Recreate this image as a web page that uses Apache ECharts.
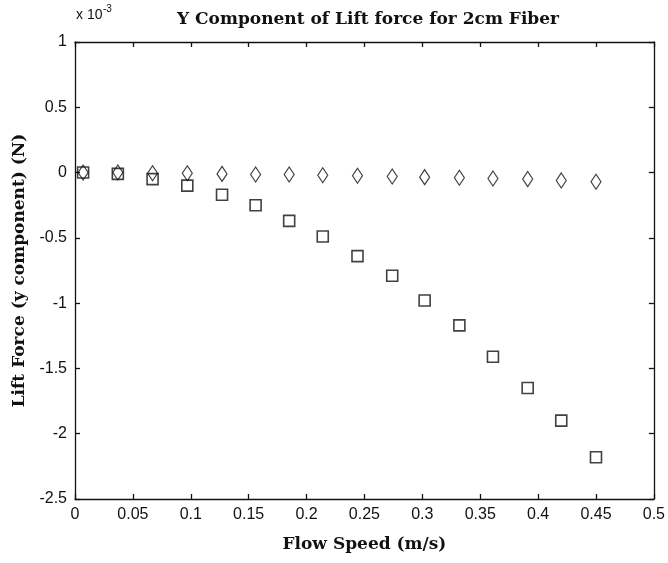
<!DOCTYPE html>
<html>
<head>
<meta charset="utf-8">
<script src="https://cdn.jsdelivr.net/npm/echarts@6/dist/echarts.min.js"></script>
<style>
html,body{margin:0;padding:0;background:#fff;}
#chart{width:668px;height:563px;}
</style>
</head>
<body>
<div id="chart"></div>
<script>
// Flow speed (m/s)
var flowSpeed = [0.007, 0.037, 0.067, 0.097, 0.127, 0.156, 0.185, 0.214, 0.244, 0.274, 0.302, 0.332, 0.361, 0.391, 0.420, 0.450];
// Lift force y component, in units of 1e-3 N
var squareSeries = [0, -0.01, -0.05, -0.10, -0.17, -0.25, -0.37, -0.49, -0.64, -0.79, -0.98, -1.17, -1.41, -1.65, -1.90, -2.18];
var diamondSeries = [0, 0, -0.005, -0.005, -0.01, -0.015, -0.015, -0.02, -0.025, -0.03, -0.035, -0.04, -0.045, -0.05, -0.06, -0.07];
var xTicks = [0, 0.05, 0.1, 0.15, 0.2, 0.25, 0.3, 0.35, 0.4, 0.45, 0.5];
var yTicks = [-2.5, -2, -1.5, -1, -0.5, 0, 0.5, 1];

var tickFont = '"Liberation Sans Narrow", "Liberation Sans", Arial, sans-serif';
var serifFont = '"DejaVu Serif", "Liberation Serif", serif';
var ink = '#111';

function pairs(xs, ys) { return xs.map(function (x, i) { return [x, ys[i]]; }); }

var chart = echarts.init(document.getElementById('chart'));
var lineStyle = { color: ink, width: 1.3 };
chart.setOption({
  backgroundColor: '#fff',
  animation: false,
  title: {
    text: 'Y Component of Lift force for 2cm Fiber',
    left: 363, top: 6, textAlign: 'center',
    textStyle: { fontFamily: serifFont, fontWeight: 'bold', fontSize: 17, color: ink }
  },
  graphic: [{
    type: 'text', left: 76, top: 8,
    style: { text: 'x 10', font: '14px ' + tickFont, fill: ink }
  }, {
    type: 'text', left: 103, top: 4,
    style: { text: '-3', font: '10px ' + tickFont, fill: ink }
  }],
  grid: { left: 75, right: 12, top: 42, bottom: 64, containLabel: false },
  xAxis: [{
    type: 'value', min: 0, max: 0.5, interval: 0.05,
    name: 'Flow Speed (m/s)', nameLocation: 'middle', nameGap: 37,
    nameTextStyle: { fontFamily: serifFont, fontWeight: 'bold', fontSize: 17, color: ink },
    axisLine: { show: true, onZero: false, lineStyle: lineStyle },
    axisTick: { show: true, inside: true, length: 5, lineStyle: lineStyle },
    axisLabel: { fontFamily: tickFont, fontSize: 16, color: ink, margin: 8,
      formatter: function (v) { var t = xTicks.find(function (k) { return Math.abs(k - v) < 1e-9; }); return t === undefined ? '' : String(t); } },
    splitLine: { show: false }
  }, {
    type: 'value', min: 0, max: 0.5, interval: 0.05, position: 'top',
    axisLine: { show: true, onZero: false, lineStyle: lineStyle },
    axisTick: { show: true, inside: true, length: 5, lineStyle: lineStyle },
    axisLabel: { show: false }, splitLine: { show: false }
  }],
  yAxis: [{
    type: 'value', min: -2.5, max: 1, interval: 0.5,
    name: 'Lift Force (y component) (N)', nameLocation: 'middle', nameGap: 43, nameRotate: 90,
    nameTextStyle: { fontFamily: serifFont, fontWeight: 'bold', fontSize: 17, color: ink },
    axisLine: { show: true, onZero: false, lineStyle: lineStyle },
    axisTick: { show: true, inside: true, length: 5, lineStyle: lineStyle },
    axisLabel: { fontFamily: tickFont, fontSize: 16, color: ink, margin: 8,
      formatter: function (v) { var t = yTicks.find(function (k) { return Math.abs(k - v) < 1e-9; }); return t === undefined ? '' : String(t); } },
    splitLine: { show: false }
  }, {
    type: 'value', min: -2.5, max: 1, interval: 0.5, position: 'right',
    axisLine: { show: true, onZero: false, lineStyle: lineStyle },
    axisTick: { show: true, inside: true, length: 5, lineStyle: lineStyle },
    axisLabel: { show: false }, splitLine: { show: false }
  }],
  series: [{
    type: 'scatter', name: 'square',
    data: pairs(flowSpeed, squareSeries),
    symbol: 'rect', symbolSize: 11,
    itemStyle: { color: 'rgba(255,255,255,0)', borderColor: ink, borderWidth: 1.6 }
  }, {
    type: 'scatter', name: 'diamond',
    data: pairs(flowSpeed, diamondSeries),
    symbol: 'diamond', symbolSize: [10, 15],
    itemStyle: { color: 'rgba(255,255,255,0)', borderColor: ink, borderWidth: 1.2 }
  }]
});
</script>
</body>
</html>
